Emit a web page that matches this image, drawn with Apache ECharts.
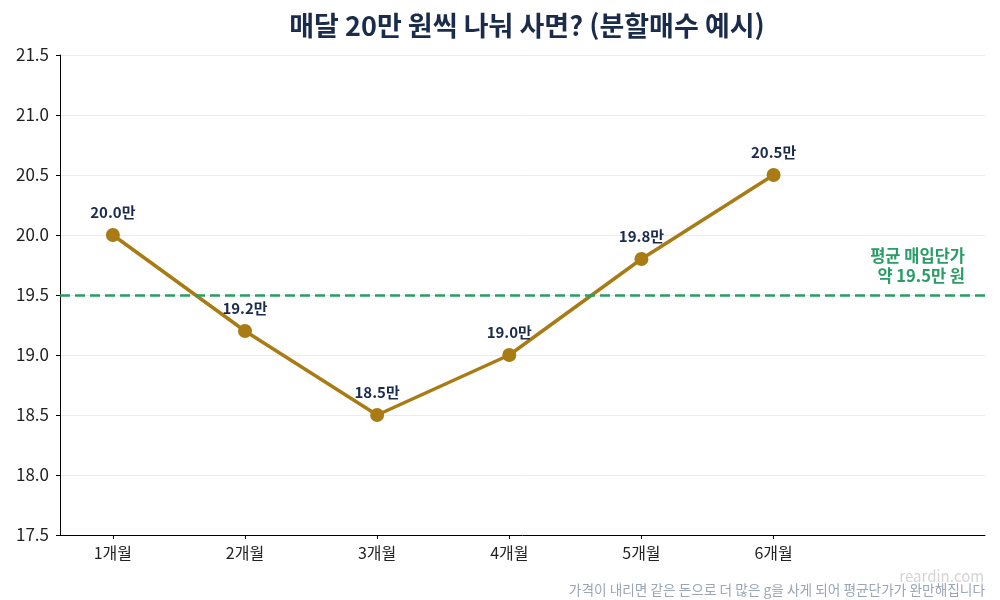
<!DOCTYPE html>
<html lang="ko">
<head>
<meta charset="UTF-8">
<title>분할매수 예시</title>
<script src="https://cdn.jsdelivr.net/npm/echarts@6/dist/echarts.min.js"></script>
<style>
html, body { margin: 0; padding: 0; background: #fff; }
#container { width: 1000px; height: 600px; }
</style>
</head>
<body>
<div id="container"></div>
<script type="text/javascript">
// 월별 매입 가격 (만 원)
var months = [1, 2, 3, 4, 5, 6];
var prices = [20.0, 19.2, 18.5, 19.0, 19.8, 20.5];
var avgPrice = 19.5;
var yTicks = [17.5, 18.0, 18.5, 19.0, 19.5, 20.0, 20.5, 21.0, 21.5];

var font = '"Noto Sans CJK KR", "Noto Sans", sans-serif';
var navy = '#1b2b4b';
var gold = '#a87b14';
var green = '#2a9d66';

var chart = echarts.init(document.getElementById('container'));

var points = [];
for (var i = 0; i < months.length; i++) {
    points.push([months[i], prices[i]]);
}

var option = {
    backgroundColor: '#fff',
    textStyle: { fontFamily: font },
    title: {
        text: '매달 20만 원씩 나눠 사면? (분할매수 예시)',
        left: 522, top: 7, textAlign: 'center',
        textStyle: { fontFamily: font, fontSize: 27, fontWeight: 'bold', color: navy }
    },
    grid: { left: 60, right: 15, top: 55, bottom: 65 },
    xAxis: {
        type: 'value',
        min: 0.6, max: 7.6,
        splitLine: { show: false },
        axisLine: { lineStyle: { color: '#000', width: 1 } },
        axisTick: { show: true, length: 4, customValues: months, lineStyle: { color: '#000' } },
        axisLabel: {
            customValues: months,
            formatter: function (v) { return v + '개월'; },
            color: '#222', fontSize: 16, margin: 10, fontFamily: font
        }
    },
    yAxis: {
        type: 'value',
        min: yTicks[0], max: yTicks[yTicks.length - 1], interval: 0.5,
        axisLine: { show: true, lineStyle: { color: '#000', width: 1 } },
        axisTick: { show: true, length: 4, lineStyle: { color: '#000' } },
        splitLine: { lineStyle: { color: '#ebebeb', width: 1 } },
        axisLabel: {
            formatter: function (v) { return v.toFixed(1); },
            color: '#222', fontSize: 17, margin: 11, fontFamily: font
        }
    },
    series: [{
        type: 'line',
        data: points,
        symbol: 'circle',
        symbolSize: 14,
        lineStyle: { color: gold, width: 3.5 },
        itemStyle: { color: gold },
        label: {
            show: true, position: 'top', distance: 8,
            formatter: function (p) { return p.value[1].toFixed(1) + '만'; },
            color: navy, fontSize: 15, fontWeight: 'bold', fontFamily: font
        },
        markLine: {
            silent: true,
            symbol: 'none',
            label: { show: false },
            lineStyle: { color: green, type: [10, 5], width: 2.5 },
            data: [{ yAxis: avgPrice }]
        },
        z: 3
    }],
    graphic: [
        {
            type: 'text', right: 35, top: 246,
            style: {
                text: '평균 매입단가\n약 ' + avgPrice.toFixed(1) + '만 원',
                textAlign: 'right', fill: green, lineHeight: 20,
                font: 'bold 16.5px ' + font
            }
        },
        {
            type: 'text', right: 16, top: 569,
            style: { text: 'reardin.com', fill: '#d4d4d4', font: '15px ' + font }
        },
        {
            type: 'text', right: 15, top: 583,
            style: {
                text: '가격이 내리면 같은 돈으로 더 많은 g을 사게 되어 평균단가가 완만해집니다',
                fill: '#9aa6b6', font: '13.7px ' + font
            }
        }
    ]
};

chart.setOption(option);
</script>
</body>
</html>
